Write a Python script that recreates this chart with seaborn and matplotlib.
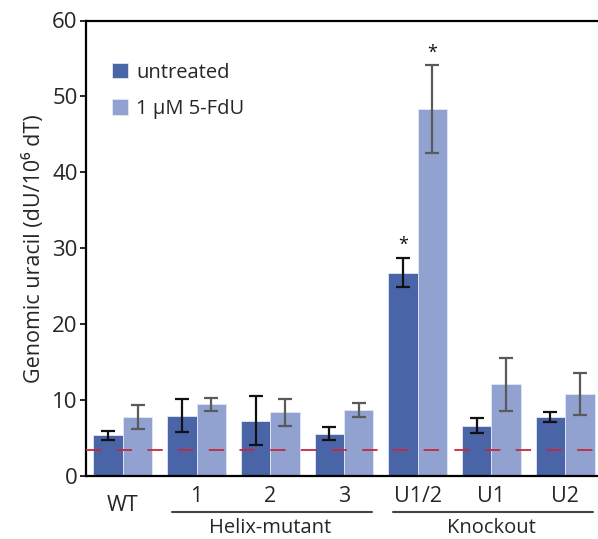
import numpy as np
import pandas as pd
import matplotlib
matplotlib.use("Agg")
import matplotlib.pyplot as plt
import matplotlib.transforms as mtransforms
import seaborn as sns

# ==================== DATA ====================

groups = ["WT", "1", "2", "3", "U1/2", "U1", "U2"]
treatments = ["untreated", "1 \u00b5M 5-FdU"]

untreated = [5.35, 7.95, 7.3, 5.55, 26.8, 6.6, 7.75]
untreated_err = [0.6, 2.15, 3.2, 0.85, 1.9, 1.0, 0.67]
fdu = [7.8, 9.45, 8.4, 8.7, 48.3, 12.1, 10.8]
fdu_err = [1.6, 0.85, 1.75, 0.95, 5.8, 3.5, 2.75]

baseline = 3.45
significant = ["U1/2"]

section_names = ["Helix-mutant", "Knockout"]
section_members = [["1", "2", "3"], ["U1/2", "U1", "U2"]]

# ==================== STYLE ====================

sns.set_style("white")
plt.rcParams["font.family"] = ["Open Sans", "DejaVu Sans"]

colors = ["#4a64a8", "#91a1d0"]
err_colors = ["#111111", "#5a5a5a"]

df = pd.DataFrame({
    "group": groups * 2,
    "treatment": [treatments[0]] * len(groups) + [treatments[1]] * len(groups),
    "value": untreated + fdu,
})

fig = plt.figure(figsize=(5.98, 5.39), dpi=100)
ax = fig.add_axes([86 / 598, 1 - 476 / 539, 516 / 598, 455.5 / 539])

sns.barplot(data=df, x="group", y="value", hue="treatment", order=groups,
            hue_order=treatments, palette=colors, saturation=1, errorbar=None,
            width=0.8, edgecolor="#e3e7f3", linewidth=0.6, ax=ax, zorder=2)

# baseline (dashed red)
ax.axhline(baseline, color="#c8283c", lw=1.3, dashes=(8.5, 8.5), zorder=3)

# error bars + asterisks
for cont, vals, errs, ec in zip(ax.containers, [untreated, fdu],
                                [untreated_err, fdu_err], err_colors):
    xs = [p.get_x() + p.get_width() / 2 for p in cont.patches]
    ax.errorbar(xs, vals, yerr=errs, fmt="none", ecolor=ec, elinewidth=1.6,
                capsize=4.8, capthick=1.6, zorder=4)
    for g, x, v, e in zip(groups, xs, vals, errs):
        if g in significant:
            ax.text(x, v + e + 0.5, "*", ha="center", va="bottom",
                    fontsize=13, color="#111111")

ax.set_ylim(0, 60)
ax.set_xlim(-0.5, 6.5)
ax.set_yticks(np.arange(0, 61, 10))
ax.set_xlabel("")
ax.set_ylabel("Genomic uracil (dU/10\u2076 dT)", fontsize=15.5, labelpad=5)

for s in ["left", "bottom", "top"]:
    ax.spines[s].set_color("black")
    ax.spines[s].set_linewidth(1.6)
ax.spines["right"].set_visible(False)

ax.tick_params(axis="y", left=True, length=4, width=1.4, labelsize=16, pad=2)
ax.tick_params(axis="x", length=0, labelsize=15.5, pad=7)

# WT label sits lower
for lab in ax.get_xticklabels():
    if lab.get_text() == "WT":
        lab.set_transform(lab.get_transform() +
                          mtransforms.ScaledTranslation(0, -9 / 100, fig.dpi_scale_trans))

# section brackets under the axis
trans = mtransforms.blended_transform_factory(ax.transData, ax.transAxes)
for name, members in zip(section_names, section_members):
    i0 = groups.index(members[0])
    i1 = groups.index(members[-1])
    ax.plot([i0 - 0.33, i1 + 0.38], [-0.080, -0.080], transform=trans,
            color="#444444", lw=1.5, clip_on=False)
    ax.text((i0 + i1) / 2, -0.125, name, transform=trans, ha="center",
            va="baseline", fontsize=14.5)

leg = ax.legend(loc="upper left", bbox_to_anchor=(0.035, 0.925), frameon=False,
                fontsize=14.5, handlelength=0.8, handleheight=0.8,
                handletextpad=0.4, labelspacing=0.8, borderaxespad=0)

fig.savefig("out.png", dpi=100)
